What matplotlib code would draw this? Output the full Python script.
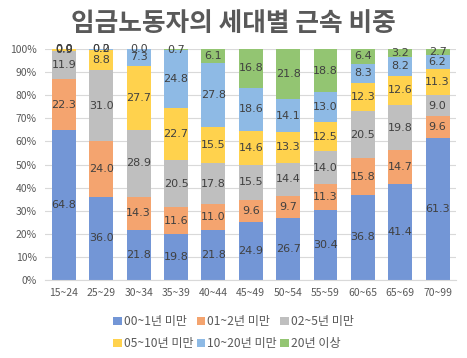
import matplotlib
matplotlib.use("Agg")
import matplotlib.pyplot as plt
import numpy as np

plt.rcParams['font.family'] = ['Noto Sans CJK KR', 'DejaVu Sans']

categories = ["15~24", "25~29", "30~34", "35~39", "40~44", "45~49",
              "50~54", "55~59", "60~65", "65~69", "70~99"]
series_names = ["00~1년 미만", "01~2년 미만", "02~5년 미만",
                "05~10년 미만", "10~20년 미만", "20년 이상"]
s0 = [64.8, 36.0, 21.8, 19.8, 21.8, 24.9, 26.7, 30.4, 36.8, 41.4, 61.3]
s1 = [22.3, 24.0, 14.3, 11.6, 11.0, 9.6, 9.7, 11.3, 15.8, 14.7, 9.6]
s2 = [11.9, 31.0, 28.9, 20.5, 17.8, 15.5, 14.4, 14.0, 20.5, 19.8, 9.0]
s3 = [0.9, 8.8, 27.7, 22.7, 15.5, 14.6, 13.3, 12.5, 12.3, 12.6, 11.3]
s4 = [0.0, 0.2, 7.3, 24.8, 27.8, 18.6, 14.1, 13.0, 8.3, 8.2, 6.2]
s5 = [0.0, 0.0, 0.0, 0.7, 6.1, 16.8, 21.8, 18.8, 6.4, 3.2, 2.7]
series = [s0, s1, s2, s3, s4, s5]
colors = ["#7396D6", "#F4A46F", "#BFBFBF", "#FFD24D", "#8EBAE5", "#93C572"]

fig = plt.figure(figsize=(4.67, 3.58), dpi=100)
ax = fig.add_axes([0.097, 0.218, 0.88, 0.645])

x = np.arange(len(categories))
bottom = np.zeros(len(categories))
for name, vals, c in zip(series_names, series, colors):
    vals = np.array(vals)
    ax.bar(x, vals, 0.64, bottom=bottom, color=c, label=name, zorder=2)
    for xi, b, v in zip(x, bottom, vals):
        ax.text(xi, b + v / 2, f"{v:.1f}", ha='center', va='center',
                fontsize=8, color='#404040', family='DejaVu Sans', zorder=3)
    bottom += vals

ax.set_ylim(0, 100)
ax.set_xlim(-0.5, len(categories) - 0.5)
ax.set_yticks(np.arange(0, 101, 10))
ax.set_yticklabels([f"{v}%" for v in range(0, 101, 10)], fontsize=7.5, color='#595959')
ax.set_xticks(x)
ax.set_xticklabels(categories, fontsize=7.5, color='#595959')
ax.tick_params(length=0, pad=6)
ax.grid(axis='y', color='#D9D9D9', linewidth=0.8, zorder=0)
for s in ['top', 'right', 'left']:
    ax.spines[s].set_visible(False)
ax.spines['bottom'].set_color('#D9D9D9')

fig.text(0.5, 0.935, "임금노동자의 세대별 근속 비중", ha='center', va='center',
         fontsize=18.5, fontweight='bold', color='#595959')

handles, labels = ax.get_legend_handles_labels()
order = [0, 3, 1, 4, 2, 5]
leg = fig.legend([handles[i] for i in order], [labels[i] for i in order],
                 loc='center', bbox_to_anchor=(0.5, 0.07), ncol=3,
                 frameon=False, fontsize=8.7, handlelength=0.7, handleheight=0.7,
                 handletextpad=0.15, columnspacing=0.3, labelspacing=0.75)
for t in leg.get_texts():
    t.set_color('#595959')

fig.savefig("out.png", dpi=100)
